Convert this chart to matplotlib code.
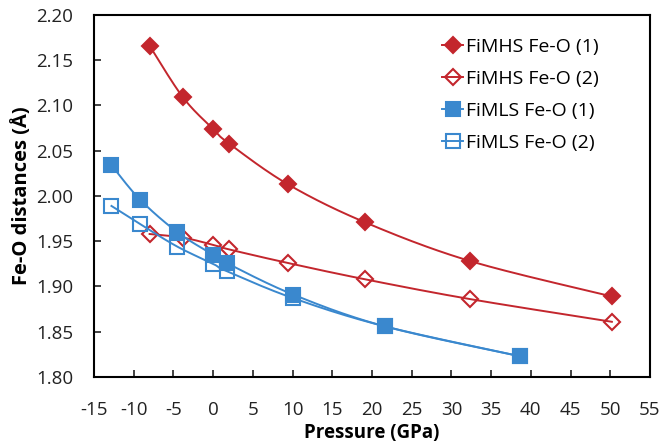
import numpy as np
import matplotlib.pyplot as plt
from matplotlib.ticker import FuncFormatter

plt.rcParams['font.family'] = ['Open Sans', 'DejaVu Sans']

# Fe-O distances vs pressure
p_hs = [-8.0, -3.8, 0.0, 2.0, 9.4, 19.1, 32.4, 50.2]
hs_1 = [2.166, 2.109, 2.074, 2.058, 2.013, 1.971, 1.928, 1.889]
hs_2 = [1.958, 1.954, 1.946, 1.941, 1.926, 1.908, 1.886, 1.861]

p_ls = [-12.8, -9.2, -4.5, 0.0, 1.7, 10.1, 21.6, 38.6]
ls_1 = [2.034, 1.996, 1.960, 1.935, 1.926, 1.891, 1.856, 1.823]
ls_2 = [1.989, 1.969, 1.944, 1.925, 1.917, 1.887, 1.856, 1.823]

red = '#C3262D'
blue = '#3A88CE'

# axis box in pixels, used to smooth lines like a spreadsheet does
xr, yr = (-15, 55), (1.80, 2.20)
sx, sy = 556 / (xr[1] - xr[0]), 362 / (yr[1] - yr[0])


def smooth(x, y, n=30):
    px = np.array(x) * sx
    py = np.array(y) * sy
    ox, oy = [], []
    for i in range(len(px) - 1):
        p0 = (px[max(i - 1, 0)], py[max(i - 1, 0)])
        p1 = (px[i], py[i])
        p2 = (px[i + 1], py[i + 1])
        p3 = (px[min(i + 2, len(px) - 1)], py[min(i + 2, len(py) - 1)])
        c1 = (p1[0] + (p2[0] - p0[0]) / 6, p1[1] + (p2[1] - p0[1]) / 6)
        c2 = (p2[0] - (p3[0] - p1[0]) / 6, p2[1] - (p3[1] - p1[1]) / 6)
        t = np.linspace(0, 1, n)
        bx = (1 - t)**3 * p1[0] + 3 * (1 - t)**2 * t * c1[0] + 3 * (1 - t) * t**2 * c2[0] + t**3 * p2[0]
        by = (1 - t)**3 * p1[1] + 3 * (1 - t)**2 * t * c1[1] + 3 * (1 - t) * t**2 * c2[1] + t**3 * p2[1]
        ox.extend(bx)
        oy.extend(by)
    return np.array(ox) / sx, np.array(oy) / sy


fig = plt.figure(figsize=(6.63, 4.44), dpi=100)
ax = fig.add_axes([94 / 663, 1 - 377 / 444, 556 / 663, 362 / 444])

series = [
    (p_hs, hs_1, red, 'D', red, 8, 'FiMHS Fe-O (1)'),
    (p_hs, hs_2, red, 'D', 'none', 8, 'FiMHS Fe-O (2)'),
    (p_ls, ls_1, blue, 's', blue, 9.5, 'FiMLS Fe-O (1)'),
    (p_ls, ls_2, blue, 's', 'none', 9.5, 'FiMLS Fe-O (2)'),
]
for x, y, c, m, fc, ms, lab in series:
    lx, ly = smooth(x, y)
    ax.plot(lx, ly, color=c, lw=1.4)
    ax.plot(x, y, ls='none', marker=m, ms=ms, mfc=fc, mec=c, mew=1.5)
    ax.plot([], [], color=c, lw=1.4, marker=m, ms=ms, mfc=fc, mec=c, mew=1.5, label=lab)

ax.set_xlim(*xr)
ax.set_ylim(*yr)
ax.set_xticks(range(-15, 56, 5))
ax.set_yticks(np.arange(1.80, 2.201, 0.05))
ax.xaxis.set_major_formatter(FuncFormatter(lambda v, _: '%d' % v))
ax.yaxis.set_major_formatter(FuncFormatter(lambda v, _: '%.2f' % v))
ax.tick_params(direction='in', length=5, width=1.2, labelsize=13.5, colors='#222222')
ax.tick_params(axis='x', pad=17)
ax.tick_params(axis='y', pad=15)
for s in ax.spines.values():
    s.set_linewidth(1.5)

ax.set_xlabel('Pressure (GPa)', fontsize=13.5, fontweight='bold', labelpad=3)
ax.set_ylabel('Fe-O distances (Å)', fontsize=14.5, fontweight='bold', labelpad=3)

ax.legend(loc='upper right', bbox_to_anchor=(0.94, 0.985), frameon=False, fontsize=14,
          handlelength=1.1, handletextpad=0.15, labelspacing=0.72)

fig.savefig('out.png', dpi=100)
